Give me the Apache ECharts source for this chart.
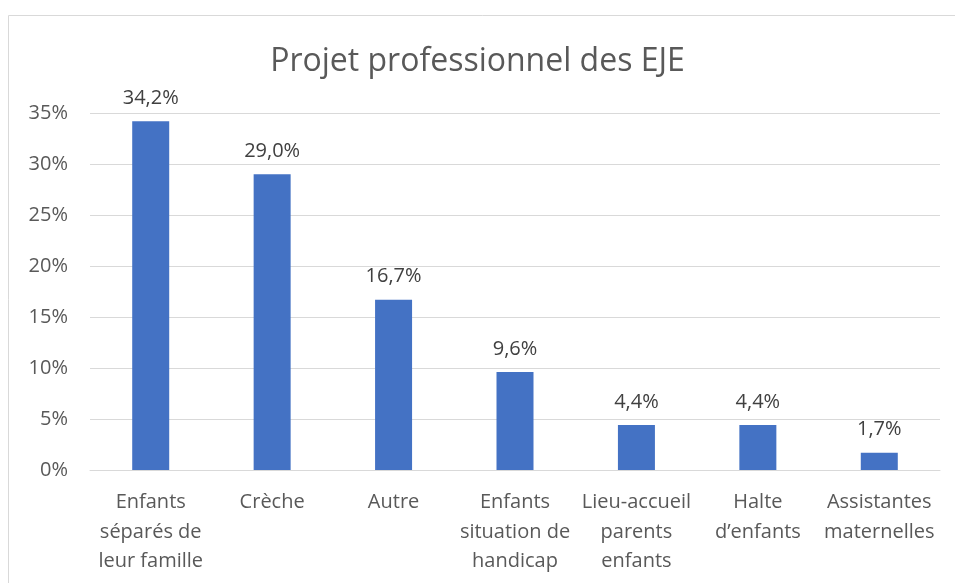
<!DOCTYPE html>
<html>
<head>
<meta charset="UTF-8">
<title>Projet professionnel des EJE</title>
<style>
  html, body { margin: 0; padding: 0; background: #fff; }
  #chart { width: 955px; height: 583px; }
</style>
</head>
<body>
<div id="chart"></div>
<script src="https://cdn.jsdelivr.net/npm/echarts@6/dist/echarts.min.js"></script>
<script>
var categories = [
  'Enfants\nséparés de\nleur famille',
  'Crèche',
  'Autre',
  'Enfants\nsituation de\nhandicap',
  'Lieu-accueil\nparents\nenfants',
  'Halte\nd\u2019enfants',
  'Assistantes\nmaternelles'
];
var values = [34.2, 29.0, 16.7, 9.6, 4.4, 4.4, 1.7];
var yTicks = { min: 0, max: 35, interval: 5 };

var font = '"Open Sans", "Noto Sans", sans-serif';
var myChart = echarts.init(document.getElementById('chart'));
var option = {
  animation: false,
  textStyle: { fontFamily: font },
  title: {
    text: 'Projet professionnel des EJE',
    left: 'center',
    top: 41,
    textStyle: { fontFamily: font, fontSize: 32, fontWeight: 'normal', color: '#595959' }
  },
  graphic: [{
    type: 'rect',
    shape: { x: 8.5, y: 15.5, width: 1000, height: 1000 },
    style: { fill: 'none', stroke: '#d9d9d9', lineWidth: 1 },
    silent: true
  }],
  grid: { left: 90, right: 15, top: 113, bottom: 113, containLabel: false },
  xAxis: {
    type: 'category',
    data: categories,
    axisLine: { show: true, lineStyle: { color: '#d9d9d9', width: 1 } },
    axisTick: { show: false },
    axisLabel: {
      interval: 0,
      fontSize: 20,
      lineHeight: 29.5,
      color: '#595959',
      margin: 18
    }
  },
  yAxis: {
    type: 'value',
    min: yTicks.min,
    max: yTicks.max,
    interval: yTicks.interval,
    axisLine: { show: false },
    axisTick: { show: false },
    splitLine: { lineStyle: { color: '#d9d9d9', width: 1 } },
    axisLabel: {
      fontSize: 20,
      color: '#595959',
      margin: 22,
      formatter: function (v) { return v + '%'; }
    }
  },
  series: [{
    type: 'bar',
    data: values,
    barWidth: 37,
    itemStyle: { color: '#4472C4' },
    label: {
      show: true,
      position: 'top',
      distance: 13,
      fontSize: 20,
      color: '#404040',
      formatter: function (p) { return p.value.toFixed(1).replace('.', ',') + '%'; }
    }
  }]
};
myChart.setOption(option);
</script>
</body>
</html>
